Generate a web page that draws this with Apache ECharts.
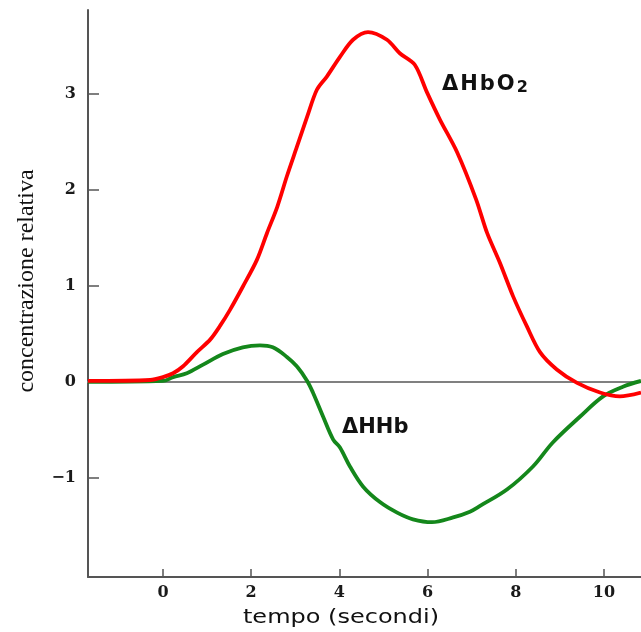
<!DOCTYPE html>
<html>
<head>
<meta charset="utf-8">
<script src="https://cdn.jsdelivr.net/npm/echarts@6/dist/echarts.min.js"></script>
<style>
html,body{margin:0;padding:0;background:#fff;}
#chart{width:641px;height:632px;}
</style>
</head>
<body>
<div id="chart"></div>
<script>
// Tick labels
var xTicks = [0, 2, 4, 6, 8, 10];
var yTicks = [-1, 0, 1, 2, 3];

// ΔHbO2 (red)
var hbo2X = [-1.70, -0.29, 0.00, 0.23, 0.45, 0.77, 1.07, 1.29, 1.52, 1.81, 2.13, 2.36, 2.59, 2.81, 3.04, 3.27, 3.49, 3.72, 4.01, 4.31, 4.65, 5.08, 5.37, 5.71, 5.99, 6.28, 6.67, 7.10, 7.35, 7.64, 7.94, 8.25, 8.55, 8.93, 9.39, 9.91, 10.36, 10.84];
var hbo2Y = [0.01, 0.02, 0.05, 0.09, 0.16, 0.31, 0.44, 0.58, 0.75, 0.99, 1.27, 1.55, 1.82, 2.14, 2.45, 2.76, 3.04, 3.18, 3.38, 3.56, 3.64, 3.56, 3.42, 3.30, 3.01, 2.73, 2.39, 1.90, 1.55, 1.24, 0.89, 0.58, 0.31, 0.13, -0.01, -0.11, -0.15, -0.11];

// ΔHHb (green)
var hhbX = [-1.70, 0.00, 0.23, 0.54, 0.91, 1.36, 1.81, 2.20, 2.49, 2.81, 3.04, 3.27, 3.40, 3.63, 3.86, 4.01, 4.24, 4.54, 4.92, 5.31, 5.67, 6.10, 6.58, 6.96, 7.19, 7.80, 8.39, 8.84, 9.46, 9.98, 10.43, 10.84];
var hhbY = [0.00, 0.01, 0.05, 0.09, 0.18, 0.29, 0.36, 0.38, 0.36, 0.26, 0.16, 0.01, -0.11, -0.36, -0.60, -0.68, -0.88, -1.09, -1.25, -1.36, -1.43, -1.46, -1.41, -1.35, -1.29, -1.12, -0.88, -0.63, -0.36, -0.15, -0.05, 0.01];

function pairs(xs, ys) { return xs.map(function (x, i) { return [x, ys[i]]; }); }

var chart = echarts.init(document.getElementById('chart'), null, {renderer: 'canvas'});
var axisGray = '#555555';
var tickFont = {fontFamily: 'DejaVu Serif', fontWeight: 'bold', fontSize: 16, color: '#1a1a1a'};

chart.setOption({
  animation: false,
  backgroundColor: '#ffffff',
  grid: {left: 88, right: 0, top: 10, bottom: 55, containLabel: false},
  xAxis: [{
    type: 'value', min: -1.7, max: 10.84, position: 'bottom',
    axisLine: {show: true, onZero: false, lineStyle: {color: axisGray, width: 2}},
    axisTick: {show: true, inside: true, length: 8, customValues: xTicks, lineStyle: {color: axisGray, width: 1.5}},
    axisLabel: Object.assign({show: true, margin: 8, customValues: xTicks}, tickFont),
    splitLine: {show: false}
  }, {
    type: 'value', min: -1.7, max: 10.84, position: 'top',
    axisLine: {show: true, onZero: true, lineStyle: {color: '#808080', width: 2}},
    axisTick: {show: false}, axisLabel: {show: false}, splitLine: {show: false}
  }],
  yAxis: {
    type: 'value', min: -2.03, max: 3.87,
    axisLine: {show: true, onZero: false, lineStyle: {color: axisGray, width: 2}},
    axisTick: {show: true, inside: true, length: 11, customValues: yTicks, lineStyle: {color: axisGray, width: 1.5}},
    axisLabel: Object.assign({show: true, margin: 12, customValues: yTicks,
      formatter: function (v) { return v < 0 ? '\u2212' + Math.abs(v) : String(v); }}, tickFont),
    splitLine: {show: false}
  },
  series: [{
    name: 'ΔHHb', type: 'line', data: pairs(hhbX, hhbY), smooth: 0.35,
    showSymbol: false, lineStyle: {color: '#14871b', width: 3.8}, z: 3
  }, {
    name: 'ΔHbO2', type: 'line', data: pairs(hbo2X, hbo2Y), smooth: 0.3,
    showSymbol: false, lineStyle: {color: '#ff0000', width: 3.8}, z: 4
  }],
  graphic: [{
    type: 'text', x: 27, y: 281, rotation: Math.PI / 2,
    style: {text: 'concentrazione relativa', fontFamily: 'Liberation Serif', fontSize: 24,
      fill: '#111', align: 'center', verticalAlign: 'middle'}
  }, {
    type: 'text', x: 341, y: 618, scaleX: 1.2,
    style: {text: 'tempo (secondi)', fontFamily: 'DejaVu Sans', fontSize: 20,
      fill: '#111', align: 'center', verticalAlign: 'middle'}
  }, {
    type: 'text', x: 442, y: 85,
    style: {text: '{a|Δ}{a|H}{a|b}{a|O}{s|2}', align: 'left', verticalAlign: 'middle',
      rich: {
        a: {fontFamily: 'DejaVu Sans', fontWeight: 'bold', fontSize: 21, fill: '#111', padding: [0, 2, 0, 0]},
        s: {fontFamily: 'DejaVu Sans', fontWeight: 'bold', fontSize: 16, fill: '#111', verticalAlign: 'bottom', padding: [4, 0, 0, 0]}
      }}
  }, {
    type: 'text', x: 342, y: 428,
    style: {text: 'ΔHHb', fontFamily: 'DejaVu Sans', fontWeight: 'bold', fontSize: 21,
      fill: '#111', align: 'left', verticalAlign: 'middle'}
  }]
});
</script>
</body>
</html>
